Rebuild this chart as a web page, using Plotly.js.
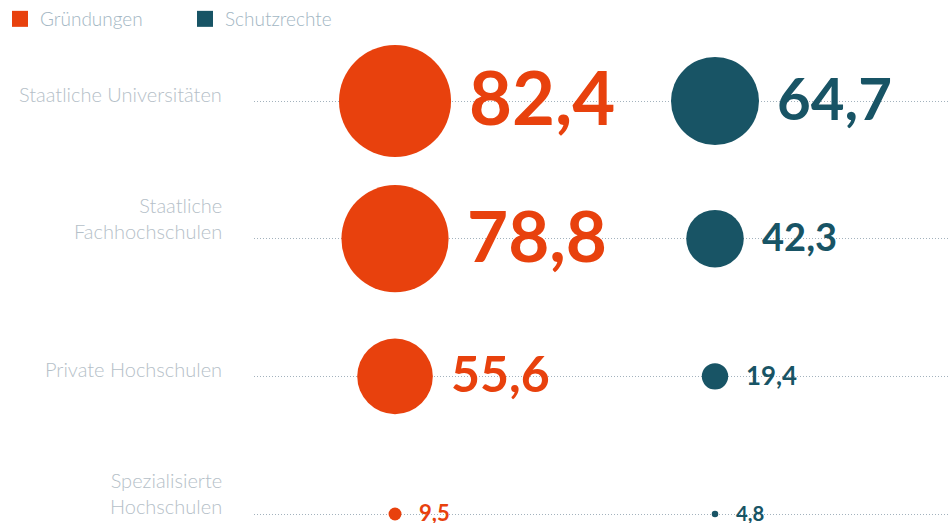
<!DOCTYPE html>
<html>
<head>
<meta charset="utf-8">
<script src="https://cdn.plot.ly/plotly-3.0.1.min.js"></script>
<style>
  html, body { margin: 0; padding: 0; background: #ffffff; }
  #chart { width: 949px; height: 523px; }
</style>
</head>
<body>
<div id="chart"></div>
<script>
// ---- data ----
var categories = ["Staatliche Universitäten", "Staatliche<br>Fachhochschulen", "Private Hochschulen", "Spezialisierte<br>Hochschulen"];
var seriesNames = ["Gründungen", "Schutzrechte"];
var gruendungen = [82.4, 78.8, 55.6, 9.5];
var schutzrechte = [64.7, 42.3, 19.4, 4.8];

// ---- styles ----
var colors = ["#e8410d", "#185465"];
var pxPerUnit = 1.36;      // bubble diameter in px per value unit
var labelFont = "Lato, 'Open Sans', sans-serif";

function fmt(v) { return v.toFixed(1).replace('.', ','); }
function numSize(v) { return v >= 30 ? 0.9 * v : 18.5 + 0.38 * v; }

var seriesValues = [gruendungen, schutzrechte];
var yIdx = categories.map(function (c, i) { return i; });

var traces = [];
var annotations = [];

seriesValues.forEach(function (vals, s) {
  traces.push({
    type: 'scatter',
    mode: 'markers',
    name: seriesNames[s],
    x: vals.map(function () { return s; }),
    y: yIdx,
    marker: {
      color: colors[s],
      opacity: 1,
      size: vals,
      sizemode: 'diameter',
      sizeref: 1 / pxPerUnit,
      line: { width: 0 }
    },
    showlegend: false,
    hoverinfo: 'skip',
    cliponaxis: false
  });
  // legend proxy
  traces.push({
    type: 'scatter',
    mode: 'markers',
    name: seriesNames[s],
    x: [null], y: [null],
    marker: { color: colors[s], symbol: 'square', size: 16, opacity: 1 },
    showlegend: true,
    hoverinfo: 'skip'
  });
  vals.forEach(function (v, i) {
    var fs = numSize(v);
    annotations.push({
      xref: 'x', yref: 'y',
      x: s, y: i,
      text: fmt(v),
      showarrow: false,
      xanchor: 'left',
      yanchor: 'middle',
      xshift: v * pxPerUnit / 2 + 16,
      yshift: fs * 0.06,
      font: { family: labelFont, size: fs, color: colors[s], weight: 700 }
    });
  });
});

categories.forEach(function (c, i) {
  var twoLine = c.indexOf('<br>') >= 0;
  annotations.push({
    xref: 'paper', yref: 'y',
    x: 0, y: i,
    xshift: -30,
    yshift: twoLine ? -6 : -7,
    text: c,
    showarrow: false,
    xanchor: 'right',
    yanchor: 'bottom',
    align: 'right',
    font: { family: labelFont, size: 20, color: '#b5c0c8', weight: 300 }
  });
});

var layout = {
  width: 949,
  height: 523,
  margin: { l: 254, r: 0, t: 30, b: 0, pad: 0 },
  paper_bgcolor: '#ffffff',
  plot_bgcolor: '#ffffff',
  showlegend: true,
  legend: {
    orientation: 'h',
    x: -254 / 695, xanchor: 'left',
    y: 1 + 30 / 493, yanchor: 'top',
    font: { family: labelFont, size: 19, color: '#a2b6c3', weight: 300 },
    entrywidth: 140,
    entrywidthmode: 'pixels',
    itemclick: false, itemdoubleclick: false,
    bgcolor: 'rgba(0,0,0,0)'
  },
  xaxis: {
    range: [-0.4407, 1.7313],
    visible: false,
    fixedrange: true
  },
  yaxis: {
    range: [3.065, -0.5157],
    tickvals: yIdx,
    showticklabels: false,
    showgrid: true,
    gridcolor: '#a3b2bd',
    gridwidth: 1,
    griddash: '1px,2px',
    zeroline: false,
    showline: false,
    ticks: '',
    fixedrange: true
  },
  annotations: annotations,
  hovermode: false
};

Plotly.newPlot('chart', traces, layout, { displayModeBar: false, staticPlot: true });
</script>
</body>
</html>
